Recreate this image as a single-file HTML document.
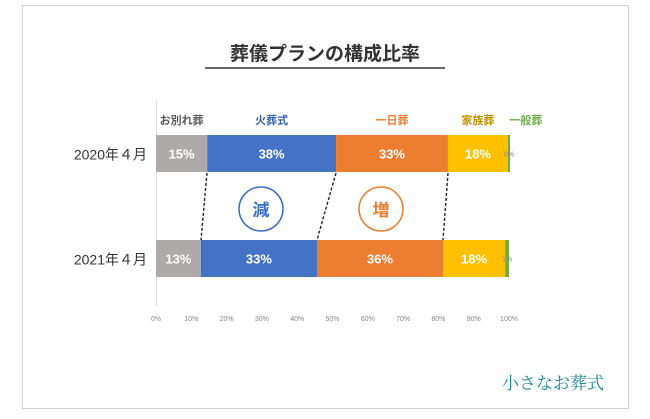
<!DOCTYPE html>
<html><head><meta charset="utf-8"><style>
body{margin:0;background:#fff;font-family:"Liberation Sans","Noto Sans CJK JP",sans-serif}
</style></head><body>
<svg width="650" height="414" font-family="Liberation Sans, Noto Sans CJK JP, sans-serif">
<rect x="22.5" y="5.5" width="606" height="403" fill="#fff" stroke="#d0d0d0"/>
<text x="325" y="60" text-anchor="middle" font-size="19" font-weight="bold" fill="#333">葬儀プランの構成比率</text>
<line x1="205" y1="68" x2="445" y2="68" stroke="#333" stroke-width="1.5"/>
<line x1="156.5" y1="100" x2="156.5" y2="306" stroke="#ddd"/>
<g id="bars"></g><g id="ticks"></g>
<line x1="207" y1="173" x2="201" y2="240" stroke="#222" stroke-width="1.4" stroke-dasharray="3,2"/>
<line x1="336" y1="173" x2="317" y2="240" stroke="#222" stroke-width="1.4" stroke-dasharray="3,2"/>
<line x1="448" y1="173" x2="443" y2="240" stroke="#222" stroke-width="1.4" stroke-dasharray="3,2"/>
<circle cx="261" cy="209" r="22" fill="#fff" stroke="#3a6cc6" stroke-width="1.5"/>
<text x="261" y="216" text-anchor="middle" font-size="17" font-weight="bold" fill="#3a6cc6">減</text>
<circle cx="381" cy="209" r="22" fill="#fff" stroke="#ed7d31" stroke-width="1.5"/>
<text x="381" y="216" text-anchor="middle" font-size="17" font-weight="bold" fill="#ed7d31">増</text>
<text x="604" y="389" text-anchor="end" font-size="17" fill="#17879a" font-family="Liberation Serif, Noto Serif CJK SC, serif">小さなお葬式</text>
</svg>
<script>
const categories=["2020年４月","2021年４月"];
const seriesNames=["お別れ葬","火葬式","一日葬","家族葬","一般葬"];
const seriesColors=["#aeaaaa","#4472c4","#ed7d31","#ffc000","#70ad47"];
const headerColors=["#595959","#2f5fb5","#ed7d31","#bf8f00","#70ad47"];
const values2020=[14.5,36.5,31.7,17,0.6];
const values2021=[12.7,32.9,35.7,17.6,1.1];
const labels2020=["15%","38%","33%","18%","0%"];
const labels2021=["13%","33%","36%","18%","1%"];
const tickValues=[0,10,20,30,40,50,60,70,80,90,100];
const NS="http://www.w3.org/2000/svg";
const x=v=>156+v*3.53;
const rowY=[135,240],rowH=37;
function mk(t,a,p){const e=document.createElementNS(NS,t);for(const k in a)e.setAttribute(k,a[k]);p.appendChild(e);return e;}
const g=document.getElementById('bars');
[values2020,values2021].forEach((vals,r)=>{
 const labs=r?labels2021:labels2020;let acc=0;
 const ct=mk('text',{x:147,y:rowY[r]+rowH/2+6,'text-anchor':'end','font-size':14,fill:'#333'},g);ct.textContent=categories[r];
 
 
 vals.forEach((v,i)=>{
  const b=mk('rect',{x:x(acc),y:rowY[r],width:x(acc+v)-x(acc),height:rowH,fill:seriesColors[i]},g);
  
  
  const small=i===4;
  const t=mk('text',{x:(x(acc)+x(acc+v))/2,y:rowY[r]+rowH/2+(small?3:5),'text-anchor':'middle','font-size':small?7:13,'font-weight':small?'normal':'bold',fill:small?'#888':'#fff'},g);
  t.textContent=labs[i];
  
  
  if(r===0){const h=mk('text',{x:i===4?x(acc)+18:(x(acc)+x(acc+v))/2,y:124,'text-anchor':'middle','font-size':11,'font-weight':'bold',fill:headerColors[i]},g);h.textContent=seriesNames[i];
   
   }
  acc+=v;
 });
});
const tg=document.getElementById('ticks');
tickValues.forEach(v=>{const t=mk('text',{x:x(v),y:321,'text-anchor':'middle','font-size':7,fill:'#888'},tg);t.textContent=v+'%';
 
 });
</script>
</body></html>
